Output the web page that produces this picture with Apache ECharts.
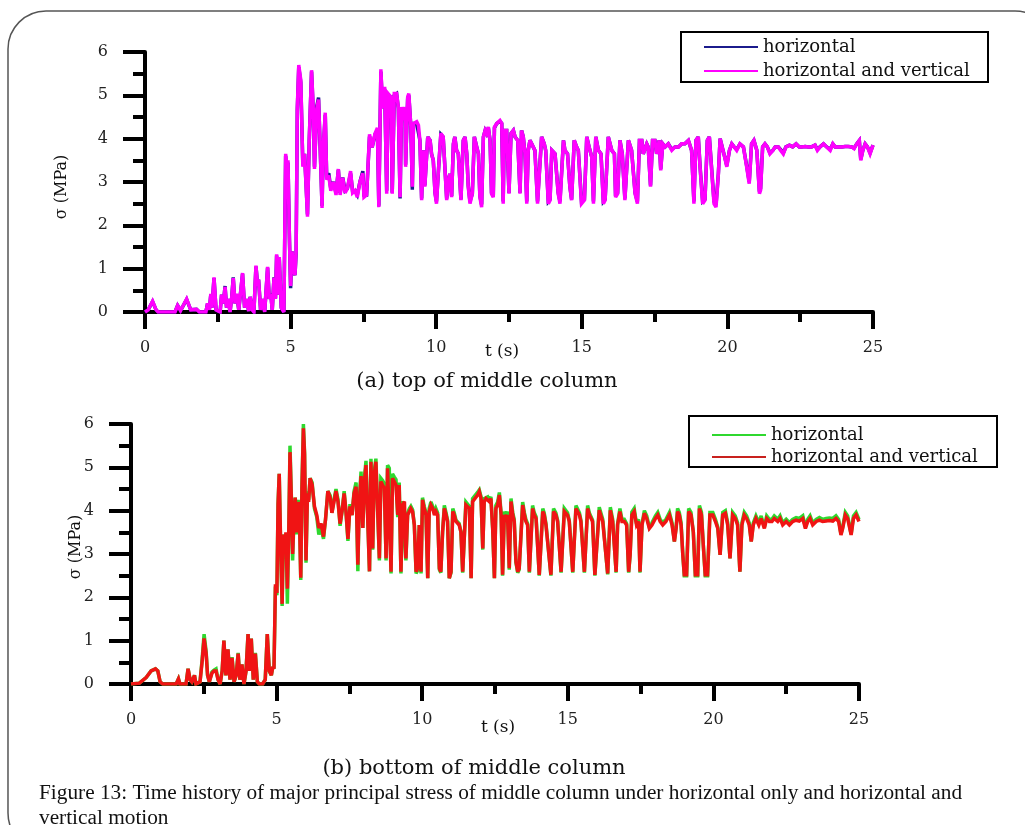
<!DOCTYPE html>
<html>
<head>
<meta charset="utf-8">
<title>Figure 13</title>
<script src="https://cdn.jsdelivr.net/npm/echarts@6.0.0/dist/echarts.min.js"></script>
<style>
  html, body { margin: 0; padding: 0; background: #fff; }
  #chart { width: 1025px; height: 825px; }
</style>
</head>
<body>
<div id="chart"></div>
<script>
// (a) top of middle column : time (s) and major principal stress (MPa)
var topTime = [
  0, 0.11, 0.26, 0.38, 0.45, 1.03, 1.12, 1.22, 1.43, 1.57,
  1.77, 1.87, 2.09, 2.15, 2.21, 2.26, 2.30, 2.37, 2.44, 2.58,
  2.63, 2.69, 2.75, 2.80, 2.86, 2.92, 2.98, 3.03, 3.09, 3.15,
  3.22, 3.29, 3.35, 3.42, 3.49, 3.56, 3.61, 3.68, 3.74, 3.81,
  3.87, 3.90, 3.97, 4.04, 4.11, 4.21, 4.27, 4.32, 4.37, 4.43,
  4.48, 4.52, 4.57, 4.61, 4.68, 4.77, 4.83, 4.88, 4.91, 4.96,
  5.00, 5.05, 5.10, 5.15, 5.19, 5.23, 5.28, 5.35, 5.42, 5.48,
  5.58, 5.64, 5.72, 5.78, 5.82, 5.90, 5.96, 6.01, 6.08, 6.12,
  6.19, 6.24, 6.31, 6.38, 6.47, 6.56, 6.64, 6.70, 6.79, 6.87,
  6.95, 7.06, 7.13, 7.21, 7.29, 7.38, 7.48, 7.52, 7.61, 7.71,
  7.80, 7.90, 7.98, 8.03, 8.10, 8.16, 8.23, 8.30, 8.35, 8.45,
  8.49, 8.56, 8.64, 8.70, 8.76, 8.81, 8.87, 8.93, 8.95, 9.02,
  9.06, 9.13, 9.18, 9.22, 9.33, 9.39, 9.44, 9.50, 9.56, 9.61,
  9.71, 9.79, 9.84, 9.90, 9.96, 10.01, 10.07, 10.16, 10.24, 10.30,
  10.36, 10.42, 10.47, 10.53, 10.59, 10.64, 10.70, 10.76, 10.85, 10.93,
  10.99, 11.05, 11.10, 11.16, 11.24, 11.31, 11.39, 11.45, 11.50, 11.56,
  11.62, 11.68, 11.73, 11.79, 11.85, 11.90, 11.96, 12.00, 12.08, 12.19,
  12.25, 12.30, 12.34, 12.42, 12.50, 12.57, 12.65, 12.71, 12.80, 12.88,
  12.93, 12.99, 13.05, 13.11, 13.16, 13.22, 13.28, 13.39, 13.48, 13.53,
  13.62, 13.71, 13.76, 13.85, 13.91, 13.97, 14.08, 14.19, 14.25, 14.37,
  14.42, 14.51, 14.59, 14.65, 14.74, 14.82, 14.88, 14.99, 15.09, 15.17,
  15.25, 15.34, 15.40, 15.48, 15.57, 15.66, 15.74, 15.80, 15.91, 16.03,
  16.12, 16.16, 16.23, 16.31, 16.39, 16.48, 16.60, 16.71, 16.83, 16.91,
  16.98, 17.06, 17.11, 17.23, 17.28, 17.36, 17.43, 17.51, 17.57, 17.66,
  17.71, 17.78, 17.86, 17.97, 18.09, 18.20, 18.32, 18.43, 18.54, 18.66,
  18.77, 18.85, 18.92, 19.00, 19.06, 19.15, 19.23, 19.31, 19.38, 19.46,
  19.54, 19.61, 19.69, 19.75, 19.80, 19.88, 19.98, 20.07, 20.15, 20.23,
  20.32, 20.43, 20.55, 20.66, 20.75, 20.83, 20.91, 21.01, 21.10, 21.14,
  21.21, 21.29, 21.37, 21.46, 21.56, 21.64, 21.75, 21.83, 21.92, 22.01,
  22.13, 22.24, 22.36, 22.47, 22.55, 22.67, 22.78, 22.89, 23.01, 23.09,
  23.18, 23.30, 23.41, 23.53, 23.62, 23.70, 23.81, 23.93, 24.04, 24.15,
  24.27, 24.35, 24.44, 24.53, 24.58, 24.65, 24.73, 24.81, 24.90, 25.00
];
var topHoriz = [
  0, 0.05, 0.24, 0.05, 0, 0, 0.15, 0.03, 0.29, 0.05,
  0.06, 0, 0, 0.20, 0.05, 0.40, 0.10, 0.78, 0.05, 0,
  0.40, 0.20, 0.60, 0.10, 0.30, 0, 0.35, 0.80, 0.20, 0.40,
  0.05, 0.50, 0.88, 0.10, 0.30, 0.02, 0.35, 0.05, 0, 1.05,
  0.62, 0.75, 0.05, 0.30, 0, 1.02, 0.30, 0.42, 0.05, 0.80,
  0.32, 1.30, 0.40, 1.25, 0.10, 0, 3.60, 3.30, 3.45, 1.70,
  0.55, 1.40, 0.95, 0.85, 1.35, 4.65, 5.65, 5.30, 3.40, 3.65,
  2.25, 3.95, 5.55, 4.60, 3.35, 4.75, 4.95, 3.90, 2.45, 3.75,
  4.55, 3.10, 3.20, 2.85, 3.00, 2.75, 3.28, 2.75, 3.10, 2.80,
  2.85, 3.20, 2.78, 2.80, 2.70, 3.00, 3.25, 2.70, 2.70, 4.05,
  3.80, 4.10, 4.20, 2.45, 5.55, 4.70, 5.15, 2.80, 5.00, 4.96,
  2.75, 5.00, 5.04, 4.70, 2.62, 4.70, 4.42, 4.70, 3.40, 4.92,
  5.00, 4.27, 2.82, 4.35, 4.35, 4.31, 3.96, 2.62, 3.73, 2.92,
  4.04, 3.96, 3.65, 3.50, 2.75, 2.55, 3.19, 4.10, 4.04, 4.04,
  2.62, 3.04, 3.19, 2.68, 3.88, 4.04, 3.73, 3.65, 2.60, 3.96,
  4.04, 3.65, 2.92, 2.55, 2.73, 4.04, 3.81, 3.65, 2.68, 2.48,
  4.04, 4.19, 4.12, 4.25, 3.96, 2.75, 2.68, 4.25, 4.35, 4.40,
  4.35, 2.55, 4.19, 4.19, 2.75, 4.12, 4.19, 4.04, 3.96, 2.75,
  4.19, 4.04, 3.65, 2.55, 3.73, 3.96, 3.88, 3.73, 2.55, 2.52,
  4.04, 3.88, 3.73, 2.55, 2.60, 3.73, 3.65, 2.75, 2.55, 3.96,
  3.73, 3.65, 2.90, 2.60, 3.96, 3.81, 3.73, 2.55, 2.60, 4.04,
  3.81, 3.58, 2.55, 4.04, 3.73, 3.65, 2.55, 2.60, 4.04, 3.73,
  3.65, 2.68, 2.75, 3.96, 3.65, 2.62, 3.96, 3.73, 2.75, 2.55,
  3.96, 3.96, 3.65, 3.88, 3.81, 2.92, 3.96, 3.96, 3.65, 3.96,
  3.30, 3.88, 3.81, 3.88, 3.75, 3.81, 3.81, 3.88, 3.88, 3.96,
  3.73, 2.55, 3.96, 4.04, 3.38, 2.55, 2.60, 3.96, 4.04, 3.30,
  2.55, 2.48, 3.20, 4.00, 3.96, 3.65, 3.38, 3.73, 3.88, 3.81,
  3.75, 3.88, 3.81, 3.38, 3.00, 3.88, 3.96, 3.73, 2.78, 2.85,
  3.81, 3.88, 3.81, 3.67, 3.73, 3.81, 3.81, 3.75, 3.67, 3.81,
  3.85, 3.81, 3.88, 3.81, 3.81, 3.82, 3.81, 3.81, 3.85, 3.75,
  3.81, 3.88, 3.81, 3.75, 3.88, 3.81, 3.81, 3.81, 3.82, 3.82,
  3.81, 3.78, 3.88, 3.96, 3.52, 3.73, 3.88, 3.81, 3.67, 3.85
];
var topHorizVert = [
  0, 0.05, 0.25, 0.05, 0, 0, 0.15, 0.03, 0.30, 0.05,
  0.06, 0, 0, 0.20, 0.05, 0.42, 0.10, 0.80, 0.05, 0,
  0.40, 0.20, 0.58, 0.10, 0.30, 0, 0.35, 0.78, 0.20, 0.42,
  0.05, 0.50, 0.90, 0.10, 0.30, 0.02, 0.35, 0.05, 0, 1.07,
  0.60, 0.75, 0.05, 0.30, 0, 1.04, 0.30, 0.40, 0.05, 0.79,
  0.30, 1.33, 0.40, 1.27, 0.10, 0, 3.65, 3.30, 3.50, 1.65,
  0.60, 1.40, 1.00, 0.85, 1.40, 4.70, 5.70, 5.35, 3.35, 3.65,
  2.20, 3.95, 5.58, 4.65, 3.30, 4.70, 4.90, 3.95, 2.40, 3.80,
  4.60, 3.05, 3.15, 2.80, 3.00, 2.70, 3.30, 2.70, 3.10, 2.75,
  2.85, 3.25, 2.75, 2.80, 2.65, 3.00, 3.20, 2.65, 2.70, 4.10,
  3.80, 4.12, 4.25, 2.42, 5.60, 4.70, 5.20, 2.73, 5.04, 4.96,
  2.73, 5.04, 5.04, 4.73, 2.65, 4.73, 4.42, 4.73, 3.35, 4.96,
  5.04, 4.27, 2.89, 4.35, 4.39, 4.31, 3.96, 2.58, 3.73, 2.89,
  4.04, 3.96, 3.65, 3.50, 2.73, 2.50, 3.19, 4.12, 4.04, 4.04,
  2.58, 3.04, 3.19, 2.65, 3.88, 4.04, 3.73, 3.65, 2.58, 3.96,
  4.04, 3.65, 2.89, 2.50, 2.73, 4.04, 3.81, 3.65, 2.65, 2.42,
  4.04, 4.19, 4.12, 4.27, 3.96, 2.73, 2.65, 4.27, 4.35, 4.42,
  4.35, 2.50, 4.19, 4.19, 2.73, 4.12, 4.19, 4.04, 3.96, 2.73,
  4.19, 4.04, 3.65, 2.50, 3.73, 3.96, 3.88, 3.73, 2.50, 2.50,
  4.04, 3.88, 3.73, 2.50, 2.58, 3.73, 3.65, 2.73, 2.50, 3.96,
  3.73, 3.65, 2.89, 2.58, 3.96, 3.81, 3.73, 2.50, 2.58, 4.04,
  3.81, 3.58, 2.50, 4.04, 3.73, 3.65, 2.50, 2.58, 4.04, 3.73,
  3.65, 2.65, 2.73, 3.96, 3.65, 2.58, 3.96, 3.73, 2.73, 2.50,
  3.96, 3.96, 3.65, 3.88, 3.81, 2.89, 3.96, 3.96, 3.65, 3.96,
  3.27, 3.88, 3.81, 3.88, 3.73, 3.81, 3.81, 3.88, 3.88, 3.96,
  3.73, 2.50, 3.96, 4.04, 3.35, 2.50, 2.58, 3.96, 4.04, 3.27,
  2.50, 2.42, 3.19, 4.00, 3.96, 3.65, 3.35, 3.73, 3.88, 3.81,
  3.73, 3.88, 3.81, 3.35, 2.96, 3.88, 3.96, 3.73, 2.73, 2.81,
  3.81, 3.88, 3.81, 3.65, 3.73, 3.81, 3.81, 3.73, 3.65, 3.81,
  3.85, 3.81, 3.88, 3.81, 3.81, 3.82, 3.81, 3.81, 3.85, 3.73,
  3.81, 3.88, 3.81, 3.73, 3.88, 3.81, 3.81, 3.81, 3.82, 3.82,
  3.81, 3.77, 3.88, 3.96, 3.50, 3.73, 3.88, 3.81, 3.65, 3.85
];

// (b) bottom of middle column
var bottomTime = [
  0, 0.29, 0.52, 0.69, 0.84, 0.92, 1.00, 1.09, 1.55, 1.63,
  1.68, 1.89, 1.96, 2.03, 2.09, 2.18, 2.23, 2.37, 2.44, 2.51,
  2.58, 2.63, 2.69, 2.78, 2.85, 2.92, 2.99, 3.06, 3.13, 3.19,
  3.26, 3.33, 3.40, 3.47, 3.54, 3.61, 3.68, 3.74, 3.81, 3.88,
  3.95, 4.02, 4.06, 4.13, 4.20, 4.27, 4.34, 4.41, 4.52, 4.61,
  4.68, 4.75, 4.82, 4.87, 4.91, 4.96, 5.01, 5.05, 5.09, 5.14,
  5.19, 5.23, 5.28, 5.32, 5.37, 5.42, 5.46, 5.51, 5.55, 5.60,
  5.64, 5.69, 5.74, 5.78, 5.83, 5.87, 5.92, 5.96, 6.01, 6.06,
  6.10, 6.15, 6.22, 6.30, 6.38, 6.45, 6.53, 6.61, 6.68, 6.76,
  6.84, 6.90, 6.97, 7.04, 7.11, 7.18, 7.25, 7.32, 7.38, 7.45,
  7.52, 7.59, 7.66, 7.73, 7.79, 7.84, 7.90, 7.96, 8.02, 8.07,
  8.13, 8.19, 8.24, 8.30, 8.35, 8.41, 8.47, 8.53, 8.58, 8.64,
  8.70, 8.76, 8.81, 8.87, 8.93, 8.98, 9.04, 9.10, 9.16, 9.21,
  9.27, 9.33, 9.39, 9.44, 9.50, 9.56, 9.61, 9.67, 9.73, 9.79,
  9.84, 9.90, 9.96, 10.01, 10.07, 10.13, 10.19, 10.24, 10.30, 10.36,
  10.42, 10.47, 10.53, 10.59, 10.64, 10.70, 10.76, 10.82, 10.87, 10.93,
  10.99, 11.05, 11.10, 11.16, 11.22, 11.27, 11.33, 11.39, 11.45, 11.50,
  11.56, 11.62, 11.68, 11.73, 11.79, 11.90, 11.96, 12.02, 12.08, 12.13,
  12.19, 12.25, 12.30, 12.36, 12.42, 12.48, 12.53, 12.59, 12.65, 12.71,
  12.76, 12.82, 12.88, 12.93, 12.99, 13.05, 13.11, 13.16, 13.22, 13.28,
  13.33, 13.45, 13.51, 13.56, 13.62, 13.68, 13.74, 13.79, 13.85, 13.91,
  14.02, 14.14, 14.19, 14.25, 14.31, 14.42, 14.51, 14.59, 14.65, 14.77,
  14.88, 14.99, 15.05, 15.17, 15.28, 15.40, 15.45, 15.57, 15.68, 15.74,
  15.85, 15.93, 16.08, 16.20, 16.25, 16.37, 16.46, 16.54, 16.66, 16.71,
  16.79, 16.86, 16.94, 17.02, 17.09, 17.14, 17.20, 17.28, 17.36, 17.43,
  17.48, 17.55, 17.63, 17.71, 17.80, 17.89, 18.01, 18.09, 18.17, 18.26,
  18.37, 18.49, 18.58, 18.66, 18.72, 18.77, 18.83, 18.89, 18.95, 19.00,
  19.08, 19.15, 19.23, 19.31, 19.38, 19.46, 19.52, 19.59, 19.66, 19.72,
  19.80, 19.88, 19.98, 20.07, 20.15, 20.23, 20.32, 20.41, 20.49, 20.57,
  20.66, 20.75, 20.83, 20.91, 20.98, 21.06, 21.14, 21.23, 21.30, 21.37,
  21.46, 21.56, 21.64, 21.75, 21.83, 21.92, 22.01, 22.09, 22.21, 22.29,
  22.38, 22.50, 22.61, 22.72, 22.84, 22.95, 23.07, 23.16, 23.24, 23.32,
  23.41, 23.53, 23.64, 23.75, 23.87, 23.98, 24.10, 24.21, 24.30, 24.38,
  24.44, 24.53, 24.61, 24.73, 24.81, 24.90, 25.00
];
var bottomHoriz = [
  0, 0.02, 0.15, 0.30, 0.35, 0.30, 0.05, 0, 0, 0.12,
  0, 0, 0.35, 0.10, 0.05, 0.20, 0, 0.05, 0.55, 1.15,
  0.75, 0.20, 0.05, 0.28, 0.32, 0.35, 0.10, 0, 0.30, 1.00,
  0.20, 0.80, 0.10, 0.62, 0.05, 0.20, 0.72, 0.10, 0.45, 0,
  0.30, 1.15, 0.30, 1.05, 0.10, 0.72, 0.05, 0, 0, 0.10,
  1.15, 0.30, 0.20, 0.40, 0.35, 2.25, 2.05, 4.15, 4.85, 3.10,
  1.80, 3.45, 3.20, 3.45, 1.85, 3.60, 5.50, 4.25, 2.85, 3.90,
  4.30, 3.45, 4.25, 4.00, 2.40, 4.55, 6.00, 5.35, 2.80, 4.45,
  4.25, 4.75, 4.65, 4.05, 3.85, 3.45, 3.60, 3.35, 3.80, 4.45,
  4.35, 3.95, 4.25, 4.50, 4.25, 3.65, 4.00, 4.45, 4.00, 3.30,
  4.15, 3.90, 4.45, 4.65, 2.60, 4.25, 4.90, 3.60, 4.80, 5.15,
  3.80, 2.60, 5.20, 3.10, 4.90, 5.20, 5.17, 2.85, 4.75, 4.70,
  4.62, 2.85, 5.05, 4.98, 2.55, 4.85, 4.78, 4.72, 3.85, 4.65,
  2.55, 4.22, 4.21, 2.85, 3.95, 4.05, 4.10, 4.02, 3.67, 2.55,
  2.62, 3.67, 2.55, 4.30, 4.10, 3.95, 2.44, 4.05, 4.20, 4.10,
  3.95, 4.05, 3.95, 2.64, 2.57, 3.51, 4.12, 3.95, 3.78, 2.44,
  2.57, 4.05, 3.95, 3.78, 3.78, 3.70, 3.51, 2.57, 2.57, 4.20,
  4.18, 4.10, 2.44, 4.28, 4.25, 4.42, 4.48, 4.32, 3.10, 4.28,
  4.32, 4.32, 4.25, 4.32, 3.59, 2.44, 4.12, 4.20, 4.42, 3.95,
  2.50, 3.98, 3.86, 3.98, 2.64, 4.28, 3.95, 3.80, 2.80, 2.57,
  2.64, 4.20, 3.95, 3.80, 3.70, 2.57, 2.57, 4.12, 3.95, 3.86,
  2.50, 4.05, 3.95, 3.70, 3.70, 2.50, 4.05, 3.95, 3.78, 2.57,
  4.05, 3.95, 3.78, 2.57, 4.12, 3.95, 3.78, 2.57, 4.12, 3.95,
  3.78, 2.50, 4.08, 3.80, 3.78, 2.53, 4.08, 3.80, 2.57, 3.70,
  4.05, 3.80, 3.80, 3.70, 2.57, 2.98, 3.97, 4.05, 3.70, 3.80,
  2.57, 3.70, 4.00, 3.88, 3.62, 3.72, 3.88, 3.96, 3.80, 3.72,
  3.80, 3.96, 3.72, 3.29, 3.62, 4.05, 3.96, 3.72, 2.98, 2.50,
  2.50, 4.05, 3.96, 3.51, 2.50, 2.50, 4.12, 3.96, 3.13, 2.50,
  2.50, 3.96, 3.96, 3.80, 3.62, 2.98, 3.96, 4.00, 3.72, 2.90,
  3.96, 3.88, 3.72, 2.59, 3.72, 3.96, 3.88, 3.72, 3.29, 3.72,
  3.88, 3.72, 3.88, 3.62, 3.88, 3.80, 3.80, 3.88, 3.80, 3.88,
  3.72, 3.80, 3.72, 3.80, 3.84, 3.82, 3.88, 3.62, 3.80, 3.88,
  3.72, 3.80, 3.84, 3.80, 3.82, 3.83, 3.82, 3.88, 3.80, 3.46,
  3.62, 3.96, 3.88, 3.46, 3.88, 3.96, 3.80
];
var bottomHorizVert = [
  0, 0.02, 0.15, 0.30, 0.35, 0.30, 0.05, 0, 0, 0.12,
  0, 0, 0.35, 0.10, 0.05, 0.20, 0, 0.05, 0.50, 1.05,
  0.70, 0.20, 0.05, 0.25, 0.30, 0.30, 0.10, 0, 0.30, 1.00,
  0.20, 0.80, 0.10, 0.60, 0.05, 0.20, 0.70, 0.10, 0.45, 0,
  0.30, 1.15, 0.30, 1.05, 0.10, 0.70, 0.05, 0, 0, 0.10,
  1.15, 0.30, 0.20, 0.40, 0.35, 2.30, 2.10, 4.15, 4.85, 3.20,
  1.85, 3.45, 3.20, 3.50, 2.20, 3.60, 5.35, 4.20, 3.00, 3.90,
  4.30, 3.50, 4.20, 4.00, 2.45, 4.50, 5.90, 5.30, 2.85, 4.40,
  4.20, 4.75, 4.60, 4.10, 3.90, 3.60, 3.70, 3.40, 3.80, 4.45,
  4.30, 3.95, 4.20, 4.45, 4.20, 3.70, 4.00, 4.40, 4.00, 3.35,
  4.10, 3.90, 4.40, 4.55, 2.75, 4.20, 4.80, 3.60, 4.70, 5.05,
  3.80, 2.60, 5.13, 3.13, 4.82, 5.13, 5.17, 2.90, 4.67, 4.59,
  4.52, 2.90, 4.98, 4.94, 2.59, 4.75, 4.67, 4.59, 3.90, 4.59,
  2.59, 4.13, 4.21, 2.90, 3.90, 3.98, 4.05, 3.98, 3.67, 2.59,
  2.67, 3.67, 2.59, 4.25, 4.05, 3.90, 2.44, 3.98, 4.13, 4.05,
  3.90, 3.98, 3.90, 2.67, 2.59, 3.51, 4.05, 3.90, 3.75, 2.44,
  2.59, 3.98, 3.90, 3.75, 3.75, 3.67, 3.51, 2.59, 2.59, 4.13,
  4.13, 4.05, 2.44, 4.21, 4.21, 4.36, 4.44, 4.28, 3.13, 4.21,
  4.28, 4.28, 4.21, 4.28, 3.59, 2.44, 4.05, 4.13, 4.36, 3.90,
  2.52, 3.90, 3.82, 3.90, 2.67, 4.21, 3.90, 3.75, 2.82, 2.59,
  2.67, 4.13, 3.90, 3.75, 3.67, 2.59, 2.59, 4.05, 3.90, 3.82,
  2.52, 3.98, 3.90, 3.67, 3.67, 2.52, 3.98, 3.90, 3.75, 2.59,
  3.98, 3.90, 3.75, 2.59, 4.05, 3.90, 3.75, 2.59, 4.05, 3.90,
  3.75, 2.52, 4.01, 3.75, 3.75, 2.55, 4.01, 3.75, 2.59, 3.67,
  3.98, 3.75, 3.75, 3.67, 2.59, 2.98, 3.90, 3.98, 3.67, 3.75,
  2.59, 3.67, 3.94, 3.82, 3.59, 3.67, 3.82, 3.90, 3.75, 3.67,
  3.75, 3.90, 3.67, 3.29, 3.59, 3.98, 3.90, 3.67, 2.98, 2.52,
  2.52, 3.98, 3.90, 3.51, 2.52, 2.52, 4.05, 3.90, 3.13, 2.52,
  2.52, 3.90, 3.90, 3.75, 3.59, 2.98, 3.90, 3.94, 3.67, 2.90,
  3.90, 3.82, 3.67, 2.59, 3.67, 3.90, 3.82, 3.67, 3.29, 3.67,
  3.82, 3.67, 3.82, 3.59, 3.82, 3.75, 3.75, 3.82, 3.75, 3.82,
  3.67, 3.75, 3.67, 3.75, 3.78, 3.76, 3.82, 3.59, 3.75, 3.82,
  3.67, 3.75, 3.78, 3.75, 3.76, 3.77, 3.76, 3.82, 3.75, 3.44,
  3.59, 3.90, 3.82, 3.44, 3.82, 3.90, 3.75
];

var seriesNames = ['horizontal', 'horizontal and vertical'];
var topColors = ['#1b1b8c', '#ff00ff'];
var bottomColors = ['#2fd82f', '#f01414'];

var serif = 'DejaVu Serif, serif';
var captionFont = 'Liberation Serif, Times New Roman, serif';

function pairs(t, v) {
    var out = [];
    for (var i = 0; i < t.length; i++) out.push([t[i], v[i]]);
    return out;
}

function timeAxis(gridIndex) {
    return {
        type: 'value', gridIndex: gridIndex,
        min: 0, max: 25, interval: 5,
        axisLine: { onZero: false, lineStyle: { color: '#000', width: 4 } },
        axisTick: { inside: false, length: 17, lineStyle: { color: '#000', width: 4 } },
        minorTick: { show: true, splitNumber: 2, length: 10, lineStyle: { color: '#000', width: 4 } },
        axisLabel: { margin: 28, color: '#222', fontSize: 16, fontFamily: serif },
        splitLine: { show: false }
    };
}

function stressAxis(gridIndex) {
    return {
        type: 'value', gridIndex: gridIndex,
        min: 0, max: 6, interval: 1,
        axisLine: { show: true, onZero: false, lineStyle: { color: '#000', width: 4 } },
        axisTick: { show: true, inside: false, length: 22, lineStyle: { color: '#000', width: 4 } },
        minorTick: { show: true, splitNumber: 2, length: 12, lineStyle: { color: '#000', width: 4 } },
        axisLabel: { margin: 37, color: '#222', fontSize: 16, fontFamily: serif },
        splitLine: { show: false }
    };
}

function line(name, color, grid, t, v, z) {
    return {
        type: 'line', name: name, xAxisIndex: grid, yAxisIndex: grid,
        data: pairs(t, v), showSymbol: false, symbol: 'none',
        lineStyle: { color: color, width: 3.5, join: 'miter', miterLimit: 3 },
        itemStyle: { color: color },
        z: z, animation: false
    };
}

function text(str, x, y, size, opts) {
    opts = opts || {};
    return {
        type: 'text', x: x, y: y, rotation: opts.rotation || 0,
        style: {
            text: str, fill: opts.fill || '#111', font: size + 'px ' + (opts.family || serif),
            align: opts.align || 'center', verticalAlign: 'middle'
        }
    };
}

var option = {
    backgroundColor: '#fff',
    animation: false,
    grid: [
        { left: 145, top: 52, width: 728, height: 260 },
        { left: 131, top: 424, width: 728, height: 260 }
    ],
    xAxis: [timeAxis(0), timeAxis(1)],
    yAxis: [stressAxis(0), stressAxis(1)],
    legend: [
        {
            orient: 'vertical', left: 704, top: 35, padding: 0, itemGap: 0,
            itemWidth: 54, itemHeight: 2, icon: 'rect', selectedMode: false,
            textStyle: { fontSize: 18, lineHeight: 24, fontFamily: serif, color: '#111' },
            data: [
                { name: seriesNames[0], itemStyle: { color: topColors[0] } },
                { name: seriesNames[1], itemStyle: { color: topColors[1] } }
            ]
        },
        {
            orient: 'vertical', left: 712, top: 424, padding: 0, itemGap: 0,
            itemWidth: 54, itemHeight: 2, icon: 'rect', selectedMode: false,
            textStyle: { fontSize: 18, lineHeight: 22, fontFamily: serif, color: '#111' },
            data: [
                { name: seriesNames[0], itemStyle: { color: bottomColors[0] } },
                { name: seriesNames[1], itemStyle: { color: '#c8211e' } }
            ]
        }
    ],
    graphic: [
        // outer rounded frame
        { type: 'rect', shape: { x: 8, y: 11, width: 1045, height: 840, r: 38 },
          style: { fill: 'none', stroke: '#555', lineWidth: 1.5 } },
        // legend frames
        { type: 'rect', shape: { x: 681, y: 32, width: 307, height: 50 },
          style: { fill: 'none', stroke: '#000', lineWidth: 2 } },
        { type: 'rect', shape: { x: 689, y: 416, width: 308, height: 51 },
          style: { fill: 'none', stroke: '#000', lineWidth: 2 } },
        // axis names
        text('σ (MPa)', 62, 187, 16, { rotation: Math.PI / 2 }),
        text('t (s)', 502, 352, 17),
        text('σ (MPa)', 76, 547, 16, { rotation: Math.PI / 2 }),
        text('t (s)', 498, 728, 17),
        // panel captions
        text('(a) top of middle column', 487, 382, 21),
        text('(b) bottom of middle column', 474, 769, 21),
        // figure caption
        text('Figure 13: Time history of major principal stress of middle column under horizontal only and horizontal and', 39, 793, 21.3, { align: 'left', family: captionFont }),
        text('vertical motion', 39, 818, 21.3, { align: 'left', family: captionFont })
    ],
    series: [
        line(seriesNames[0], topColors[0], 0, topTime, topHoriz, 2),
        line(seriesNames[1], topColors[1], 0, topTime, topHorizVert, 3),
        line(seriesNames[0], bottomColors[0], 1, bottomTime, bottomHoriz, 2),
        line(seriesNames[1], bottomColors[1], 1, bottomTime, bottomHorizVert, 3)
    ]
};

var myChart = echarts.init(document.getElementById('chart'), null, { renderer: 'canvas' });
myChart.setOption(option);
</script>
</body>
</html>
